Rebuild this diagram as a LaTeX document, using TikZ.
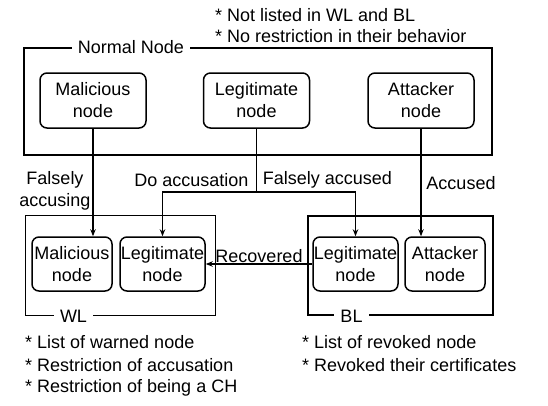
\documentclass[tikz,border=0pt]{standalone}
\usepackage{fontspec}
\setmainfont{Liberation Sans}
\usepackage{tikz}
\usetikzlibrary{arrows.meta}

\begin{document}
\begin{tikzpicture}[x=1pt,y=-1pt,>={Stealth[length=7pt,width=5.5pt]},
  font=\fontsize{18}{22}\selectfont,
  nodebox/.style={draw,line width=1.5pt,rounded corners=7pt,align=center,inner sep=0.5pt},
  topbox/.style={nodebox,minimum width=106pt,minimum height=55pt},
  listbox/.style={nodebox,minimum height=54pt},
  group/.style={draw,line width=1.8pt},
  grouptitle/.style={fill=white,inner sep=6pt},
  note/.style={anchor=west,inner sep=0pt},
  link/.style={line width=1.4pt}]
  \useasboundingbox (0,0) rectangle (548,405);
  % normal nodes
  \draw[group] (24,48) rectangle (492,155);
  \node[grouptitle] (normal) at (131,47) {Normal Node};
  \node[note] (n1) at (215,15) {* Not listed in WL and BL};
  \node[note] (n2) at (215,36) {* No restriction in their behavior};
  \node[topbox] (mal) at (93,100.5) {Malicious\\node};
  \node[topbox] (leg) at (256.5,100.5) {Legitimate\\node};
  \node[topbox] (att) at (421,100.5) {Attacker\\node};
  % warned list
  \draw[draw,line width=0.8pt] (25,215) rectangle (215,315);
  \node[grouptitle] (wl) at (73.5,316) {WL};
  \node[listbox,minimum width=80pt] (wmal) at (72,264) {Malicious\\node};
  \node[listbox,minimum width=85pt] (wleg) at (162.5,264) {Legitimate\\node};
  \node[note] (w1) at (25,342) {* List of warned node};
  \node[note] (w2) at (25,365) {* Restriction of accusation};
  \node[note] (w3) at (25,388) {* Restriction of being a CH};
  % black list
  \draw[group] (308,216) rectangle (493,315);
  \node[grouptitle] (bl) at (351.5,316) {BL};
  \node[listbox,minimum width=85pt] (bleg) at (355.5,264) {Legitimate\\node};
  \node[listbox,minimum width=80pt] (batt) at (445,264) {Attacker\\node};
  \node[note] (b1) at (302,342) {* List of revoked node};
  \node[note] (b2) at (302,365) {* Revoked their certificates};
  % transitions
  \coordinate (split) at (256.5,192);
  \draw[link,->] (mal.south) -- (mal.south |- wmal.north);
  \draw[link] (leg.south) -- (split);
  \draw[link,->] (split) -| (wleg.north);
  \draw[link,->] (split) -| (bleg.north);
  \draw[link,->] (att.south) -- (att.south |- batt.north);
  \draw[link,->] (bleg.west) -- (wleg.east);
  \node[align=center,inner sep=0pt] (lfa) at (55,191) {Falsely\\accusing};
  \node[inner sep=0pt] (lda) at (191.5,180) {Do accusation};
  \node[inner sep=0pt] (lfd) at (327.5,180) {Falsely accused};
  \node[inner sep=0pt] (lac) at (461,183) {Accused};
  \node[inner sep=0pt] (lrc) at (259,256) {Recovered};
\end{tikzpicture}
\end{document}
